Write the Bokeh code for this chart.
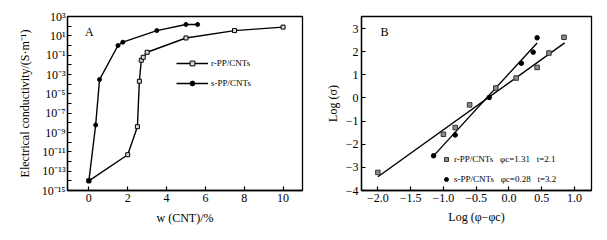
import numpy as np
from bokeh.plotting import figure
from bokeh.layouts import row
from bokeh.models import (FixedTicker, CustomJSTickFormatter, Legend, LegendItem, Label)
from bokeh.embed import file_html
from bokeh.resources import INLINE

# ---------------- data: panel A ----------------
r_w = [0, 2.0, 2.5, 2.6, 2.7, 2.8, 3.0, 5.0, 7.5, 10.0]
r_sigma = [1e-14, 5e-12, 4e-9, 2e-4, 3e-2, 6e-2, 2e-1, 6.0, 35.0, 80.0]
s_w = [0, 0.35, 0.55, 1.5, 1.75, 3.5, 5.0, 5.6]
s_sigma = [1e-14, 6e-9, 3e-4, 1.0, 2.2, 35.0, 150.0, 150.0]
a_yticks = [1e-15, 1e-13, 1e-11, 1e-9, 1e-7, 1e-5, 1e-3, 1e-1, 1e1, 1e3]
a_yminor = [1e-14, 1e-12, 1e-10, 1e-8, 1e-6, 1e-4, 1e-2, 1e0, 1e2]
a_xticks = [0, 2, 4, 6, 8, 10]

# ---------------- data: panel B ----------------
rb_x = [-2.0, -1.0, -0.82, -0.6, -0.2, 0.11, 0.43, 0.61, 0.84]
rb_y = [-3.22, -1.57, -1.28, -0.30, 0.43, 0.86, 1.32, 1.94, 2.62]
sb_x = [-1.15, -0.82, -0.30, 0.19, 0.37, 0.43]
sb_y = [-2.50, -1.60, 0.02, 1.50, 1.98, 2.60]
r_fit_slope, r_fit_int, r_fit_x = 2.03, 0.655, [-2.0, 0.85]
s_fit_slope, s_fit_int, s_fit_x = 3.09, 1.05, [-1.15, 0.43]
b_xticks = [-2.0, -1.5, -1.0, -0.5, 0.0, 0.5, 1.0]
b_yticks = [-4, -3, -2, -1, 0, 1, 2, 3]
labels_a = ["r-PP/CNTs", "s-PP/CNTs"]
labels_b = ["r-PP/CNTs   \u03c6c=1.31   t=2.1", "s-PP/CNTs   \u03c6c=0.28   t=3.2"]

FONT = "Liberation Serif"
TICK_FS = "12px"
LAB_FS = "12px"


def style(p):
    p.outline_line_color = "black"
    p.outline_line_width = 1.3
    p.background_fill_color = "white"
    p.border_fill_color = "white"
    for ax in p.axis:
        ax.axis_line_width = 1.3
        ax.major_tick_in = 4
        ax.major_tick_out = 0
        ax.minor_tick_in = 4
        ax.minor_tick_out = 0
        ax.major_tick_line_width = 1.2
        ax.minor_tick_line_width = 1.2
        ax.major_label_text_font = FONT
        ax.major_label_text_font_size = TICK_FS
        ax.major_label_text_color = "black"
        ax.axis_label_text_font = FONT
        ax.axis_label_text_font_size = LAB_FS
        ax.axis_label_text_font_style = "normal"
        ax.axis_label_text_color = "black"
    p.grid.visible = False


# ---------------- panel A ----------------
pa = figure(width=322, height=240, x_range=(-1.1, 11), y_range=(1e-15, 1e3),
            y_axis_type="log", output_backend="svg", toolbar_location=None,
            min_border_left=67, min_border_right=20, min_border_top=16,
            min_border_bottom=50)
style(pa)
pa.xaxis.ticker = FixedTicker(ticks=a_xticks, minor_ticks=[])
pa.yaxis.ticker = FixedTicker(ticks=a_yticks, minor_ticks=a_yminor)
pa.yaxis.formatter = CustomJSTickFormatter(code="""
const e = Math.round(Math.log10(tick));
const sup = {"0":"\u2070","1":"\u00b9","2":"\u00b2","3":"\u00b3","4":"\u2074","5":"\u2075",
             "6":"\u2076","7":"\u2077","8":"\u2078","9":"\u2079","-":"\u207b"};
return "10" + String(e).split("").map(c => sup[c]).join("");
""")
pa.xaxis.major_label_standoff = 3
pa.xaxis.axis_label_standoff = 6
pa.yaxis.major_label_standoff = 2
pa.yaxis.axis_label_standoff = 7
pa.xaxis.axis_label = "w (CNT)/%"
pa.yaxis.axis_label = "Electrical conductivity/(S\u00b7m\u207b\u00b9)"

lr = pa.line(r_w, r_sigma, line_color="black", line_width=1.4)
mr = pa.scatter(r_w, r_sigma, marker="square", size=4, line_color="black",
                fill_color="#d8d8d8", line_width=1)
ls = pa.line(s_w, s_sigma, line_color="black", line_width=1.4)
ms = pa.scatter(s_w, s_sigma, marker="circle", size=4, line_color="black",
                fill_color="black")
leg_a = Legend(items=[LegendItem(label=labels_a[0], renderers=[lr, mr]),
                      LegendItem(label=labels_a[1], renderers=[ls, ms])],
               location=(109, 101), orientation="vertical")
leg_a.background_fill_alpha = 0
leg_a.border_line_alpha = 0
leg_a.padding = 0
leg_a.margin = 0
leg_a.spacing = 8
leg_a.glyph_width = 32
leg_a.glyph_height = 12
leg_a.label_height = 12
leg_a.label_standoff = 3
leg_a.label_text_font = FONT
leg_a.label_text_font_size = "9px"
leg_a.label_text_color = "black"
pa.add_layout(leg_a)
pa.add_layout(Label(x=-0.2, y=10 ** 1.35, text="A", text_font=FONT,
                    text_font_size="12px", text_baseline="middle", text_color="black"))

# ---------------- panel B ----------------
pb = figure(width=285, height=240, x_range=(-2.25, 1.26), y_range=(-4, 3.52),
            output_backend="svg", toolbar_location=None,
            min_border_left=34, min_border_right=16, min_border_top=16,
            min_border_bottom=50)
style(pb)
pb.xaxis.ticker = FixedTicker(ticks=b_xticks, minor_ticks=[])
pb.yaxis.ticker = FixedTicker(ticks=b_yticks, minor_ticks=[])
pb.xaxis.major_label_overrides = {v: f"{v:.1f}".replace("-", "\u2212") for v in b_xticks}
pb.yaxis.major_label_overrides = {v: str(v).replace("-", "\u2212") for v in b_yticks}
pb.xaxis.major_label_standoff = 3
pb.xaxis.axis_label_standoff = 5
pb.yaxis.major_label_standoff = 3
pb.yaxis.axis_label_standoff = 3
pb.xaxis.axis_label = "Log (\u03c6\u2212\u03c6c)"
pb.yaxis.axis_label = "Log (\u03c3)"

rx = np.array(r_fit_x)
sx = np.array(s_fit_x)
pb.line(rx, r_fit_slope * rx + r_fit_int, line_color="black", line_width=1.4)
pb.line(sx, s_fit_slope * sx + s_fit_int, line_color="black", line_width=1.4)
mbr = pb.scatter(rb_x, rb_y, marker="square", size=4.5, line_color="#333333",
                 fill_color="#8c8c8c", line_width=1)
mbs = pb.scatter(sb_x, sb_y, marker="circle", size=4.5, line_color="black",
                 fill_color="black")
leg_b = Legend(items=[LegendItem(label=labels_b[0], renderers=[mbr]),
                      LegendItem(label=labels_b[1], renderers=[mbs])],
               location=(80, 5), orientation="vertical")
leg_b.background_fill_alpha = 0
leg_b.border_line_alpha = 0
leg_b.padding = 0
leg_b.margin = 0
leg_b.spacing = 8
leg_b.glyph_width = 10
leg_b.glyph_height = 12
leg_b.label_height = 12
leg_b.label_standoff = 3
leg_b.label_text_font = FONT
leg_b.label_text_font_size = "9px"
leg_b.label_text_color = "black"
pb.add_layout(leg_b)
pb.add_layout(Label(x=-1.96, y=2.85, text="B", text_font=FONT,
                    text_font_size="12px", text_baseline="middle", text_color="black"))

layout = row(pa, pb)
open("out.html", "w").write(file_html(layout, INLINE))
